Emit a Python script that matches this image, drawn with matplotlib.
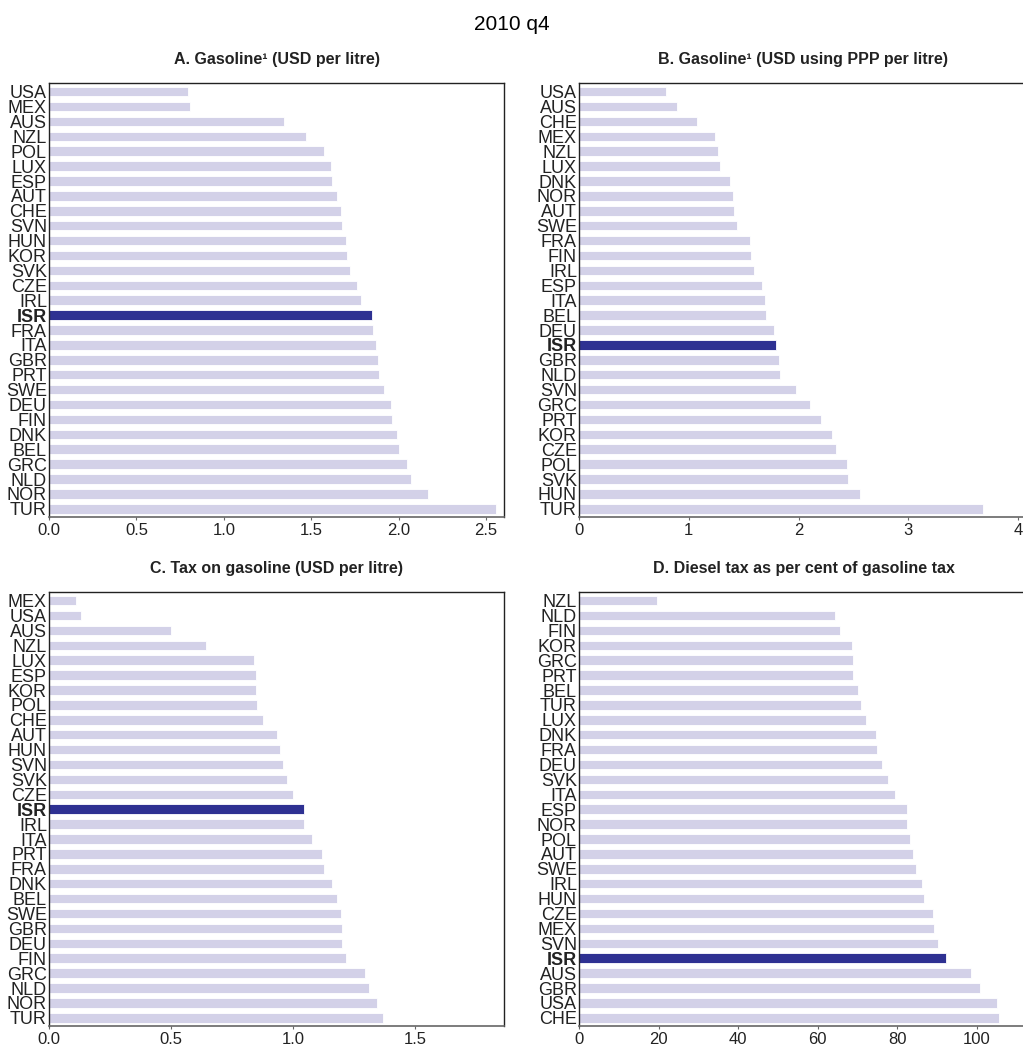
import numpy as np
import matplotlib
matplotlib.use("Agg")
import matplotlib.pyplot as plt

plt.rcParams['font.family'] = ['Liberation Sans', 'DejaVu Sans']

# panel A: gasoline price, USD per litre
a_countries = ["USA", "MEX", "AUS", "NZL", "POL", "LUX", "ESP", "AUT", "CHE", "SVN",
               "HUN", "KOR", "SVK", "CZE", "IRL", "ISR", "FRA", "ITA", "GBR", "PRT",
               "SWE", "DEU", "FIN", "DNK", "BEL", "GRC", "NLD", "NOR", "TUR"]
a_values = [0.796, 0.805, 1.345, 1.468, 1.573, 1.611, 1.620, 1.645, 1.668, 1.674,
            1.698, 1.706, 1.723, 1.761, 1.786, 1.845, 1.851, 1.870, 1.882, 1.889,
            1.918, 1.954, 1.964, 1.992, 2.002, 2.050, 2.069, 2.168, 2.557]

# panel B: gasoline price, USD using PPP per litre
b_countries = ["USA", "AUS", "CHE", "MEX", "NZL", "LUX", "DNK", "NOR", "AUT", "SWE",
               "FRA", "FIN", "IRL", "ESP", "ITA", "BEL", "DEU", "ISR", "GBR", "NLD",
               "SVN", "GRC", "PRT", "KOR", "CZE", "POL", "SVK", "HUN", "TUR"]
b_values = [0.796, 0.894, 1.078, 1.237, 1.268, 1.286, 1.378, 1.406, 1.415, 1.440,
            1.556, 1.568, 1.590, 1.663, 1.691, 1.703, 1.773, 1.792, 1.819, 1.828,
            1.975, 2.104, 2.205, 2.309, 2.340, 2.441, 2.450, 2.557, 3.678]

# panel C: tax on gasoline, USD per litre
c_countries = ["MEX", "USA", "AUS", "NZL", "LUX", "ESP", "KOR", "POL", "CHE", "AUT",
               "HUN", "SVN", "SVK", "CZE", "ISR", "IRL", "ITA", "PRT", "FRA", "DNK",
               "BEL", "SWE", "GBR", "DEU", "FIN", "GRC", "NLD", "NOR", "TUR"]
c_values = [0.112, 0.133, 0.499, 0.642, 0.839, 0.847, 0.847, 0.852, 0.876, 0.933,
            0.949, 0.959, 0.975, 0.999, 1.044, 1.047, 1.078, 1.120, 1.127, 1.160,
            1.181, 1.197, 1.200, 1.201, 1.220, 1.294, 1.312, 1.346, 1.371]

# panel D: diesel tax as per cent of gasoline tax
d_countries = ["NZL", "NLD", "FIN", "KOR", "GRC", "PRT", "BEL", "TUR", "LUX", "DNK",
               "FRA", "DEU", "SVK", "ITA", "ESP", "NOR", "POL", "AUT", "SWE", "IRL",
               "HUN", "CZE", "MEX", "SVN", "ISR", "AUS", "GBR", "USA", "CHE"]
d_values = [19.7, 64.3, 65.7, 68.7, 69.0, 69.0, 70.1, 71.0, 72.1, 74.7,
            75.0, 76.2, 77.7, 79.5, 82.6, 82.6, 83.3, 84.0, 84.7, 86.3,
            86.8, 88.9, 89.3, 90.2, 92.2, 98.6, 100.8, 105.2, 105.6]

titles = ["A. Gasoline\u00b9 (USD per litre)",
          "B. Gasoline\u00b9 (USD using PPP per litre)",
          "C. Tax on gasoline (USD per litre)",
          "D. Diesel tax as per cent of gasoline tax"]
xlims = [2.603, 4.09, 1.866, 112.9]
xticks = [[0, 0.5, 1.0, 1.5, 2.0, 2.5],
          [0, 1, 2, 3, 4],
          [0, 0.5, 1.0, 1.5],
          [0, 20, 40, 60, 80, 100]]
xticklabels = [["0.0", "0.5", "1.0", "1.5", "2.0", "2.5"],
               ["0", "1", "2", "3", "4"],
               ["0.0", "0.5", "1.0", "1.5"],
               ["0", "20", "40", "60", "80", "100"]]

light = "#d3d1e8"
dark = "#2e3192"

W, H = 1023, 1046
fig = plt.figure(figsize=[W / 100, H / 100], dpi=100)
fig.text(0.5, 1 - 25 / H, "2010 q4", ha="center", va="center", fontsize=15)

# axes boxes in pixels: left, top, right, bottom
boxes = [(49, 83, 504, 517), (579, 83, 1028, 517),
         (49, 592, 504, 1026), (579, 592, 1028, 1026)]
data = [(a_countries, a_values), (b_countries, b_values),
        (c_countries, c_values), (d_countries, d_values)]

for k, ((l, t, r, b), (names, vals)) in enumerate(zip(boxes, data)):
    ax = fig.add_axes([l / W, 1 - b / H, (r - l) / W, (b - t) / H])
    y = np.arange(len(names))
    colors = [dark if n == "ISR" else light for n in names]
    ax.barh(y, vals, height=0.64, color=colors, edgecolor="white", linewidth=0.6)
    ax.set_ylim(len(names) - 1 + 0.55, -0.58)
    ax.set_xlim(0, xlims[k])
    ax.set_yticks(y)
    ax.set_yticklabels(names, fontsize=13, color="#222222")
    for lab in ax.get_yticklabels():
        if lab.get_text() == "ISR":
            lab.set_fontweight("bold")
    ax.set_xticks(xticks[k])
    ax.set_xticklabels(xticklabels[k], fontsize=12, color="#222222")
    ax.tick_params(axis="y", length=0, pad=1.5)
    ax.tick_params(axis="x", length=2.5, color="#666666", pad=1.5)
    for s in ["top", "right", "left"]:
        ax.spines[s].set_color("#222222")
        ax.spines[s].set_linewidth(1.0)
    ax.spines["bottom"].set_color("#666666")
    ax.spines["bottom"].set_linewidth(1.2)
    ax.set_title(titles[k], fontsize=11.5, fontweight="bold", color="#222222", pad=14)

fig.savefig("out.png", dpi=100)
